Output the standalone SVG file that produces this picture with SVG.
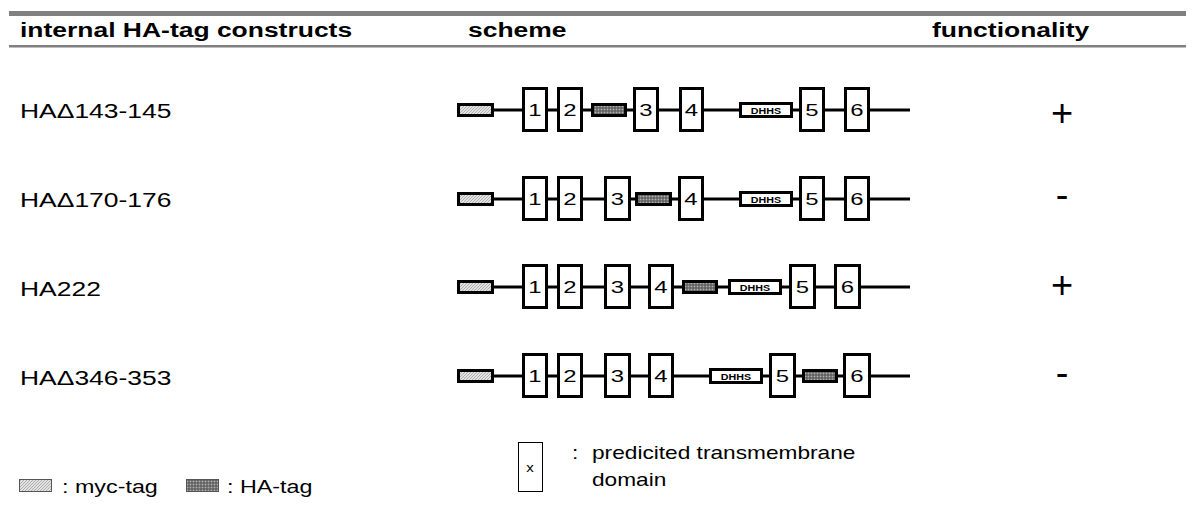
<svg xmlns="http://www.w3.org/2000/svg" width="1195" height="527" viewBox="0 0 1195 527">
  <defs>
    <!-- myc-tag: light grey fine hatch -->
    <pattern id="mycFill" width="3" height="3" patternUnits="userSpaceOnUse">
      <rect width="3" height="3" fill="#e2e2e2"/>
      <path d="M0,3 L3,0" stroke="#9a9a9a" stroke-width="0.7"/>
    </pattern>
    <!-- HA-tag: dark checker -->
    <pattern id="haFill" width="3" height="3" patternUnits="userSpaceOnUse">
      <rect width="3" height="3" fill="#4a4a4a"/>
      <rect x="0.5" y="0.5" width="2" height="2" fill="#b0b0b0"/>
    </pattern>
  </defs>
  <style>
    text { font-family: "Liberation Sans", Arial, sans-serif; fill: #000; }
    .hdr { font-size: 21px; font-weight: bold; }
    .lbl { font-size: 21px; }
    .sign { font-size: 38px; text-anchor: middle; }
    .num { font-size: 16.5px; text-anchor: middle; }
    .dhhs { font-size: 8.5px; font-weight: bold; text-anchor: middle; }
    .leg { font-size: 18.5px; }
    .tm { fill: #fff; stroke: #000; stroke-width: 3; }
    .myc { fill: url(#mycFill); stroke: #000; stroke-width: 3; }
    .ha { fill: url(#haFill); stroke: #000; stroke-width: 3; }
    .dh { fill: #fff; stroke: #000; stroke-width: 3; }
    .axis { stroke: #000; stroke-width: 3; fill: none; }
    .rule { fill: #808080; }
  </style>

  <rect id="white-bg" width="1195" height="527" fill="#fff"/>

  <!-- table rules -->
  <g id="rules">
    <rect class="rule" x="9" y="11" width="1177" height="5"/>
    <rect class="rule" x="9" y="45" width="1177" height="2.5"/>
  </g>

  <!-- column headers -->
  <g id="headers">
    <text class="hdr" transform="translate(20,37) scale(1.26,1)">internal HA-tag constructs</text>
    <text class="hdr" transform="translate(468,37) scale(1.26,1)">scheme</text>
    <text class="hdr" transform="translate(932,37) scale(1.26,1)">functionality</text>
  </g>

  <!-- backbone lines of each construct -->
  <g id="connectors">
    <line class="axis" x1="494" y1="110" x2="910" y2="110"/>
    <line class="axis" x1="494" y1="199" x2="910" y2="199"/>
    <line class="axis" x1="494" y1="287" x2="910" y2="287"/>
    <line class="axis" x1="494" y1="376" x2="910" y2="376"/>
  </g>

  <!-- construct 1 -->
  <g id="row-143-145">
    <text class="lbl" transform="translate(20,118) scale(1.26,1)">HAΔ143-145</text>
    <rect class="myc" x="458.5" y="104.5" width="34" height="11"/>
    <rect class="tm" x="523.5" y="88.5" width="23" height="42"/><text class="num" transform="translate(535,116) scale(1.45,1)">1</text>
    <rect class="tm" x="558.5" y="88.5" width="23" height="42"/><text class="num" transform="translate(570,116) scale(1.45,1)">2</text>
    <rect class="ha" x="592.5" y="104.5" width="33" height="11"/>
    <rect class="tm" x="634.5" y="88.5" width="23" height="42"/><text class="num" transform="translate(646,116) scale(1.45,1)">3</text>
    <rect class="tm" x="680.5" y="88.5" width="22" height="42"/><text class="num" transform="translate(691.5,116) scale(1.45,1)">4</text>
    <rect class="dh" x="740.5" y="103.5" width="51" height="13"/><text class="dhhs" transform="translate(766,113.5) scale(1.26,1)">DHHS</text>
    <rect class="tm" x="800.5" y="88.5" width="23" height="42"/><text class="num" transform="translate(812,116) scale(1.45,1)">5</text>
    <rect class="tm" x="845.5" y="88.5" width="23" height="42"/><text class="num" transform="translate(857,116) scale(1.45,1)">6</text>
    <text class="sign" x="1062" y="126">+</text>
  </g>

  <!-- construct 2 -->
  <g id="row-170-176">
    <text class="lbl" transform="translate(20,207) scale(1.26,1)">HAΔ170-176</text>
    <rect class="myc" x="458.5" y="193.5" width="34" height="11"/>
    <rect class="tm" x="523.5" y="177.5" width="23" height="42"/><text class="num" transform="translate(535,205) scale(1.45,1)">1</text>
    <rect class="tm" x="558.5" y="177.5" width="23" height="42"/><text class="num" transform="translate(570,205) scale(1.45,1)">2</text>
    <rect class="tm" x="605.5" y="177.5" width="24" height="42"/><text class="num" transform="translate(617.5,205) scale(1.45,1)">3</text>
    <rect class="ha" x="636.5" y="193.5" width="34" height="11"/>
    <rect class="tm" x="679.5" y="177.5" width="23" height="42"/><text class="num" transform="translate(691,205) scale(1.45,1)">4</text>
    <rect class="dh" x="740.5" y="192.5" width="51" height="13"/><text class="dhhs" transform="translate(766,202.5) scale(1.26,1)">DHHS</text>
    <rect class="tm" x="800.5" y="177.5" width="23" height="42"/><text class="num" transform="translate(812,205) scale(1.45,1)">5</text>
    <rect class="tm" x="845.5" y="177.5" width="23" height="42"/><text class="num" transform="translate(857,205) scale(1.45,1)">6</text>
    <text class="sign" x="1062" y="207.5">-</text>
  </g>

  <!-- construct 3 -->
  <g id="row-222">
    <text class="lbl" transform="translate(20,296) scale(1.26,1)">HA222</text>
    <rect class="myc" x="458.5" y="281.5" width="34" height="11"/>
    <rect class="tm" x="523.5" y="265.5" width="23" height="42"/><text class="num" transform="translate(535,293) scale(1.45,1)">1</text>
    <rect class="tm" x="558.5" y="265.5" width="23" height="42"/><text class="num" transform="translate(570,293) scale(1.45,1)">2</text>
    <rect class="tm" x="605.5" y="265.5" width="24" height="42"/><text class="num" transform="translate(617.5,293) scale(1.45,1)">3</text>
    <rect class="tm" x="649.5" y="265.5" width="23" height="42"/><text class="num" transform="translate(661,293) scale(1.45,1)">4</text>
    <rect class="ha" x="683.5" y="281.5" width="33" height="11"/>
    <rect class="dh" x="729.5" y="280.5" width="51" height="13"/><text class="dhhs" transform="translate(755,290.5) scale(1.26,1)">DHHS</text>
    <rect class="tm" x="790.5" y="265.5" width="24" height="42"/><text class="num" transform="translate(802.5,293) scale(1.45,1)">5</text>
    <rect class="tm" x="835.5" y="265.5" width="24" height="42"/><text class="num" transform="translate(847.5,293) scale(1.45,1)">6</text>
    <text class="sign" x="1062" y="297.5">+</text>
  </g>

  <!-- construct 4 -->
  <g id="row-346-353">
    <text class="lbl" transform="translate(20,385) scale(1.26,1)">HAΔ346-353</text>
    <rect class="myc" x="458.5" y="370.5" width="34" height="11"/>
    <rect class="tm" x="523.5" y="354.5" width="23" height="42"/><text class="num" transform="translate(535,382) scale(1.45,1)">1</text>
    <rect class="tm" x="558.5" y="354.5" width="23" height="42"/><text class="num" transform="translate(570,382) scale(1.45,1)">2</text>
    <rect class="tm" x="605.5" y="354.5" width="24" height="42"/><text class="num" transform="translate(617.5,382) scale(1.45,1)">3</text>
    <rect class="tm" x="649.5" y="354.5" width="23" height="42"/><text class="num" transform="translate(661,382) scale(1.45,1)">4</text>
    <rect class="dh" x="710.5" y="369.5" width="51" height="13"/><text class="dhhs" transform="translate(736,379.5) scale(1.26,1)">DHHS</text>
    <rect class="tm" x="770.5" y="354.5" width="24" height="42"/><text class="num" transform="translate(782.5,382) scale(1.45,1)">5</text>
    <rect class="ha" x="803.5" y="370.5" width="33" height="11"/>
    <rect class="tm" x="844.5" y="354.5" width="25" height="42"/><text class="num" transform="translate(857,382) scale(1.45,1)">6</text>
    <text class="sign" x="1062" y="385.5">-</text>
  </g>

  <!-- key -->
  <g id="legend-myc">
    <rect x="19.5" y="479.5" width="32" height="12" fill="url(#mycFill)" stroke="#555" stroke-width="1"/>
    <text class="leg" transform="translate(62,493) scale(1.26,1)">: myc-tag</text>
  </g>
  <g id="legend-ha">
    <rect x="186.5" y="479.5" width="32" height="12" fill="url(#haFill)" stroke="#555" stroke-width="1"/>
    <text class="leg" transform="translate(227,493) scale(1.26,1)">: HA-tag</text>
  </g>
  <g id="legend-tm">
    <rect x="518.5" y="442.5" width="24" height="49" fill="#fff" stroke="#000" stroke-width="1"/>
    <text transform="translate(530,472) scale(1.26,1)" style="font-size:12px;text-anchor:middle">x</text>
    <text class="leg" transform="translate(572,459) scale(1.26,1)" style="font-size:18px">:</text>
    <text class="leg" transform="translate(592,459) scale(1.26,1)" style="font-size:18px">predicited transmembrane</text>
    <text class="leg" transform="translate(592,486) scale(1.26,1)" style="font-size:18px">domain</text>
  </g>
</svg>
